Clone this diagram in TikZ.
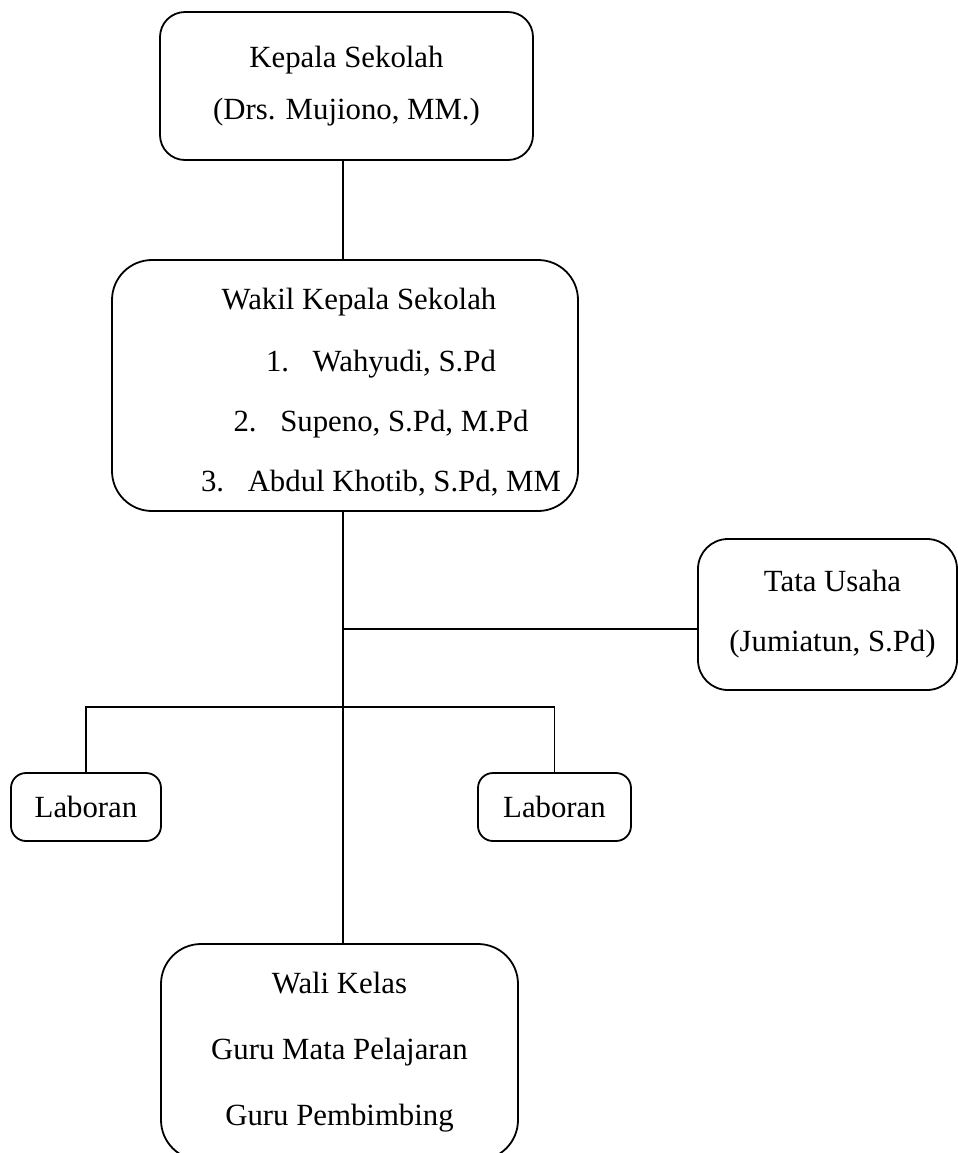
\documentclass[tikz,border=0pt]{standalone}
\usepackage{fontspec}
\setmainfont{Liberation Serif}
\begin{document}
\begin{tikzpicture}[x=0.5pt,y=-0.5pt,
  box/.style={draw,line width=0.9pt,inner sep=0pt,align=center,font=\fontsize{15.4}{30}\selectfont},
  txt/.style={inner sep=0pt,align=center,font=\fontsize{15.4}{30}\selectfont},
  conn/.style={line width=0.9pt}]
\useasboundingbox (0,0) rectangle (958,1153);
\clip (0,0) rectangle (958,1153);
\node[box, rounded corners=12.5pt, minimum width=186.5pt, minimum height=74pt, font=\fontsize{15.4}{26}\selectfont] (kepala) at (346.5,86) {Kepala Sekolah\\(Drs. Mujiono, MM.)};
\node[box, rounded corners=20pt, minimum width=233pt, minimum height=125.5pt] (wakil) at (345,385.5) {};
\node[txt] (wtitle) at (359,302) {Wakil Kepala Sekolah};
\node[txt] (wlist) at (381,423) {1.\hspace{11.8pt}Wahyudi, S.Pd\\2.\hspace{11.8pt}Supeno, S.Pd, M.Pd\\3.\hspace{11.8pt}Abdul Khotib, S.Pd, MM};
\node[box, rounded corners=15pt, minimum width=129.5pt, minimum height=75.5pt] (tata) at (827.5,614.5) {\hspace*{5pt}Tata Usaha\\\hspace*{5pt}(Jumiatun, S.Pd)};
\node[box, rounded corners=7.5pt, minimum width=75pt, minimum height=34pt] (lab1) at (86,807) {Laboran};
\node[box, rounded corners=7.5pt, minimum width=76.5pt, minimum height=34pt] (lab2) at (554.5,807) {Laboran};
\node[box, rounded corners=20pt, minimum width=178.5pt, minimum height=108pt, font=\fontsize{15.4}{33}\selectfont] (guru) at (339.5,1052) {Wali Kelas\\Guru Mata Pelajaran\\Guru Pembimbing};
\coordinate (sp) at (343,0);
\coordinate (tu) at (343,629);
\coordinate (lb) at (343,707);
\draw[conn] (kepala.south -| sp) -- (wakil.north -| sp);
\draw[conn] (wakil.south -| sp) -- (guru.north -| sp);
\draw[conn] (tu) -- (tu -| tata.west);
\draw[conn] (lab1.north) -- (lab1.north |- lb) -- (lab2.north |- lb) -- (lab2.north);
\end{tikzpicture}
\end{document}
